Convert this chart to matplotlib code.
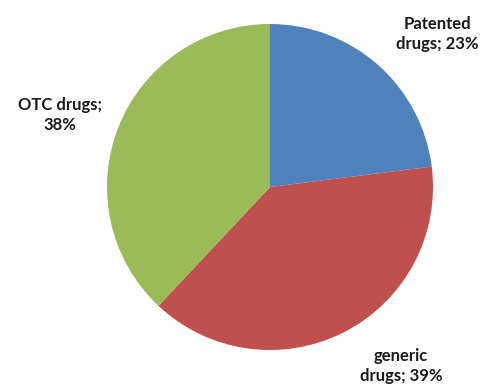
import matplotlib.pyplot as plt

labels = ["Patented\ndrugs; 23%", "generic\ndrugs; 39%", "OTC drugs;\n38%"]
shares = [23, 39, 38]
colors = ["#4F81BD", "#C0504D", "#9BBB59"]

W, H = 488, 385
cx, cy, r = 270, 187, 163

fig = plt.figure(figsize=(W / 100, H / 100), dpi=100)
ax = fig.add_axes([(cx - r) / W, (H - cy - r) / H, 2 * r / W, 2 * r / H])

ax.pie(shares, colors=colors, startangle=90, counterclock=False, radius=1,
       wedgeprops=dict(linewidth=0))
ax.set_xlim(-1, 1)
ax.set_ylim(-1, 1)
ax.set_aspect("equal")
ax.axis("off")

# label centres in pixel space
label_pos = [(437, 34), (401, 366), (60, 115)]
for text, (px, py) in zip(labels, label_pos):
    ax.text((px - cx) / r, (cy - py) / r, text, ha="center", va="center",
            fontsize=12, fontweight="bold", family="Lato", color="#1a1a1a",
            linespacing=1.25, clip_on=False)

fig.savefig("out.png", dpi=100)
